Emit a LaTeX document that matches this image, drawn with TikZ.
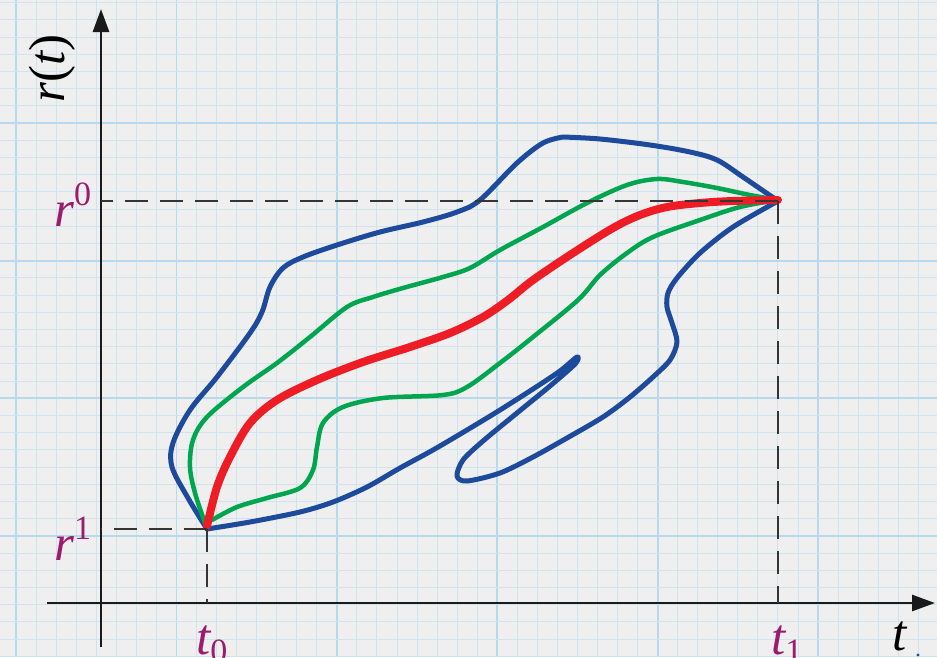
\documentclass[tikz,border=0pt]{standalone}
\usepackage{fontspec}
\setmainfont{Liberation Serif}
\usetikzlibrary{arrows.meta}
\definecolor{paper}{HTML}{EFEFEF}
\definecolor{gridminor}{HTML}{D0E4F0}
\definecolor{gridmajor}{HTML}{B8D8EC}
\definecolor{curveblue}{HTML}{1D4A9B}
\definecolor{curvegreen}{HTML}{00A550}
\definecolor{curvered}{HTML}{EE1D25}
\definecolor{labmag}{HTML}{9B1C6C}
\definecolor{axisc}{HTML}{1A1A1A}
\definecolor{dashc}{HTML}{353535}
\newcommand{\mysup}[1]{\raisebox{0.4em}{\fontsize{34}{34}\selectfont\upshape #1}}
\newcommand{\mysub}[1]{\raisebox{-0.17em}{\fontsize{34}{34}\selectfont\upshape #1}}
\tikzset{
  lab/.style={inner sep=0pt, font=\fontsize{51}{51}\selectfont\itshape},
  axisline/.style={axisc, line width=2.8pt, -{Triangle[length=23pt,width=16pt]}},
  guide/.style={dashc, line width=2.4pt, dash pattern=on 23pt off 12pt},
  bluecurve/.style={curveblue, line width=5pt, line join=round, line cap=round},
  greencurve/.style={curvegreen, line width=4.5pt, line join=round, line cap=round},
  redcurve/.style={curvered, line width=8pt, line join=round, line cap=round},
}
\begin{document}
\begin{tikzpicture}[x=1pt,y=-1pt]
\useasboundingbox (0,0) rectangle (937,657);
\fill[paper] (0,0) rectangle (937,657);
% grid
\foreach \k in {0,...,46}{
  \pgfmathsetmacro{\xx}{16+20.05*\k}
  \pgfmathtruncatemacro{\m}{mod(\k,8)}
  \ifnum\m=0
    \draw[gridmajor, line width=1.8pt] (\xx,0) -- (\xx,657);
  \else
    \draw[gridminor, line width=0.9pt] (\xx,0) -- (\xx,657);
  \fi
}
\foreach \k in {-7,...,31}{
  \pgfmathsetmacro{\yy}{123+17.2*\k}
  \pgfmathtruncatemacro{\m}{mod(\k+80,8)}
  \ifnum\m=0
    \draw[gridmajor, line width=1.8pt] (0,\yy) -- (937,\yy);
  \else
    \draw[gridminor, line width=0.9pt] (0,\yy) -- (937,\yy);
  \fi
}
% key points
\coordinate (A) at (207,529);
\coordinate (B) at (778,201);
\coordinate (Ay) at (101,529);
\coordinate (Ax) at (207,603);
\coordinate (By) at (101,201);
\coordinate (Bx) at (778,603);
\coordinate (ystart) at (101,647);
\coordinate (yend) at (101,9);
\coordinate (xstart) at (47,603);
\coordinate (xend) at (935,603);
% axes
\draw[axisline] (ystart) -- (yend);
\draw[axisline] (xstart) -- (xend);
% blue outer loop
\draw[bluecurve] plot[smooth, tension=0.55] coordinates {(207,529) (188,498) (172,467) (173,443) (190,410) (217,377) (250,333) (262,312) (270,287) (283,268) (303,257) (337,245) (380,232) (423,222) (457,212) (480,200) (517,163) (543,143) (563,137)}
  -- plot[smooth, tension=0.55] coordinates {(563,137) (600,139) (650,145) (690,152) (717,160) (743,177) (778,201)};
\draw[bluecurve] plot[smooth, tension=0.5] coordinates {(207,529) (250,522) (300,512) (333,502) (367,487) (400,468) (433,450) (467,430) (500,410) (533,389) (560,371) (577,357) (575,364) (550,386) (517,413) (483,441) (463,460) (457,476) (467,481) (500,473) (533,457) (567,438) (603,417) (630,397) (653,377) (670,360) (677,342) (672,323) (667,307) (668,293) (677,278) (700,253) (733,227) (778,201)};
% green
\draw[greencurve] plot[smooth, tension=0.55] coordinates {(205,523) (195,493) (190,467) (193,440) (207,417) (243,387) (277,363) (310,337) (347,307) (373,297) (403,288) (443,277) (470,268) (500,250) (543,227) (587,203) (627,185) (657,179) (683,182) (717,188) (750,195) (778,200)};
\draw[greencurve] plot[smooth, tension=0.55] coordinates {(212,520) (237,507) (267,498) (300,488) (313,470) (317,447) (323,423) (343,407) (383,398) (443,395) (467,387) (500,363) (533,337) (578,300) (600,275) (627,253) (653,237) (700,220) (740,207) (778,200)};
% red
\draw[redcurve] plot[smooth, tension=0.55] coordinates {(207,526) (217,487) (230,457) (250,423) (277,400) (317,380) (363,362) (410,347) (450,333) (483,317) (508,300) (533,280) (573,253) (613,228) (640,215) (667,207) (700,203) (733,201) (778,200)};
% guides
\draw[guide] (B) -- (By);
\draw[guide] (B) -- (Bx);
\draw[guide] (A) -- (Ay);
\draw[guide] (A) -- (Ax);
% labels
\node[lab, rotate=90, anchor=base west] (rt) at (64,103) {r{\upshape (}t{\upshape )}};
\node[lab, labmag, anchor=base west] (r0) at (54,226) {r\mysup{0}};
\node[lab, labmag, anchor=base west] (r1) at (54,560) {r\mysup{1}};
\node[lab, labmag, anchor=base west] (t0) at (196,654) {t\mysub{0}};
\node[lab, labmag, anchor=base west] (t1) at (771,654) {t\mysub{1}};
\node[lab, anchor=base west] (tx) at (892,650) {t};
\fill[curveblue] (918,655) circle (1.6pt);
\end{tikzpicture}
\end{document}
